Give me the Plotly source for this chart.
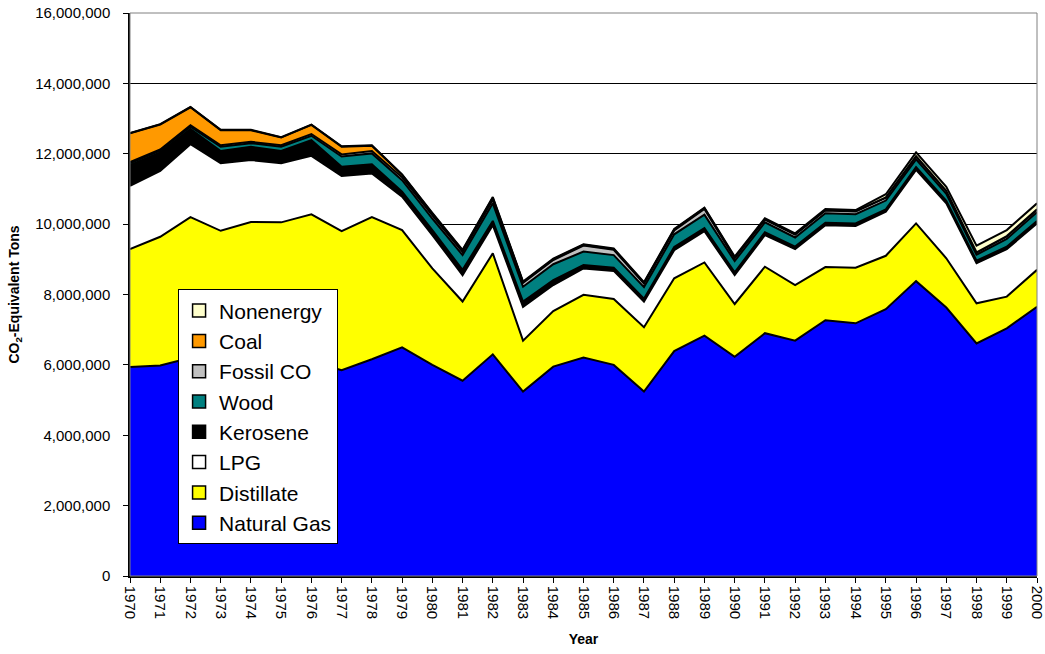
import plotly.graph_objects as go

years = list(range(1970, 2001))

# tons CO2-equivalent
natural_gas = [5940000, 5980000, 6200000, 6100000, 6000000, 6050000, 6100000, 5850000, 6160000, 6500000,
               6000000, 5550000, 6300000, 5240000, 5950000, 6210000, 6000000, 5240000, 6390000, 6830000,
               6230000, 6900000, 6690000, 7270000, 7180000, 7580000, 8380000, 7630000, 6610000, 7040000,
               7650000]
distillate = [3350000, 3660000, 4000000, 3710000, 4060000, 4000000, 4180000, 3950000, 4040000, 3330000,
              2740000, 2250000, 2870000, 1450000, 1580000, 1780000, 1870000, 1830000, 2070000, 2080000,
              1500000, 1890000, 1580000, 1510000, 1580000, 1520000, 1640000, 1400000, 1140000, 900000,
              1050000]
lpg = [1800000, 1870000, 2070000, 1920000, 1760000, 1680000, 1660000, 1570000, 1240000, 950000,
       950000, 750000, 800000, 960000, 740000, 750000, 800000, 730000, 800000, 890000,
       820000, 900000, 1020000, 1190000, 1190000, 1250000, 1520000, 1560000, 1140000, 1350000,
       1320000]
kerosene = [590000, 530000, 430000, 350000, 380000, 350000, 450000, 260000, 260000, 140000,
            140000, 150000, 120000, 150000, 140000, 100000, 90000, 80000, 90000, 90000,
            80000, 80000, 70000, 70000, 70000, 70000, 80000, 70000, 70000, 70000,
            70000]
wood = [50000, 50000, 70000, 120000, 100000, 120000, 120000, 290000, 310000, 330000,
        330000, 420000, 500000, 420000, 450000, 380000, 360000, 330000, 360000, 380000,
        320000, 280000, 260000, 270000, 260000, 250000, 220000, 200000, 170000, 220000,
        250000]
fossil_co = [30000, 30000, 40000, 40000, 40000, 40000, 50000, 60000, 70000, 80000,
             90000, 90000, 100000, 110000, 120000, 170000, 150000, 100000, 110000, 160000,
             80000, 80000, 80000, 80000, 80000, 80000, 80000, 80000, 60000, 70000,
             70000]
coal = [820000, 710000, 510000, 430000, 330000, 220000, 260000, 220000, 150000, 70000,
        50000, 40000, 60000, 20000, 20000, 20000, 20000, 20000, 20000, 20000,
        20000, 10000, 10000, 10000, 10000, 10000, 10000, 10000, 10000, 10000,
        10000]
nonenergy = [10000, 10000, 10000, 10000, 10000, 10000, 10000, 10000, 10000, 10000,
             20000, 20000, 20000, 20000, 20000, 20000, 20000, 20000, 20000, 20000,
             30000, 30000, 30000, 30000, 30000, 90000, 110000, 110000, 190000, 170000,
             170000]

series = [
    ("Natural Gas", natural_gas, "#0000FF"),
    ("Distillate", distillate, "#FFFF00"),
    ("LPG", lpg, "#FFFFFF"),
    ("Kerosene", kerosene, "#000000"),
    ("Wood", wood, "#008080"),
    ("Fossil CO", fossil_co, "#C0C0C0"),
    ("Coal", coal, "#FF9900"),
    ("Nonenergy", nonenergy, "#FFFFCC"),
]

fig = go.Figure()
for name, vals, col in series:
    fig.add_trace(go.Scatter(x=years, y=vals, name=name, mode="lines",
                             stackgroup="one", fillcolor=col, showlegend=False,
                             line=dict(color="black", width=2)))

# square swatches for the legend, top entry = top of the stack
for name, vals, col in reversed(series):
    fig.add_trace(go.Scatter(x=[None], y=[None], name=name, mode="markers",
                             marker=dict(symbol="square", size=13, color=col,
                                         line=dict(color="black", width=1.5))))

font = "Liberation Sans, Arial, sans-serif"
fig.update_layout(
    width=1045, height=654,
    margin=dict(l=130, r=8, t=13, b=78),
    paper_bgcolor="white", plot_bgcolor="white",
    font=dict(family=font, size=15, color="black"),
    showlegend=True,
    legend=dict(x=0.053, y=0.509, xanchor="left", yanchor="top", traceorder="normal",
                bgcolor="white", bordercolor="black", borderwidth=1,
                font=dict(size=21), tracegroupgap=0, itemwidth=30),
    xaxis=dict(range=[1970, 2000], tickvals=years, automargin=False, ticklabeloverflow="allow",
               tickangle=90, ticks="outside", ticklen=5, tickcolor="black",
               showgrid=False, showline=True, linecolor="black", linewidth=1.5,
               title=dict(text="<b>Year</b>", font=dict(size=14), standoff=16)),
    yaxis=dict(range=[0, 16000000], dtick=2000000, tickformat=",", automargin=False,
               ticks="outside", ticklen=5, tickcolor="black", ticklabelstandoff=10,
               showgrid=True, gridcolor="black", gridwidth=1,
               showline=True, linecolor="black", linewidth=1.5,
               title=dict(text="<b>CO<sub>2</sub>-Equivalent Tons</b>", font=dict(size=14), standoff=12)),
)
fig.add_shape(type="rect", xref="paper", yref="paper", x0=0, y0=0, x1=1, y1=1,
              line=dict(color="#808080", width=1), layer="above")

fig.write_html("out.html", config={"displayModeBar": False},
               post_script="document.body.style.margin='0';")
